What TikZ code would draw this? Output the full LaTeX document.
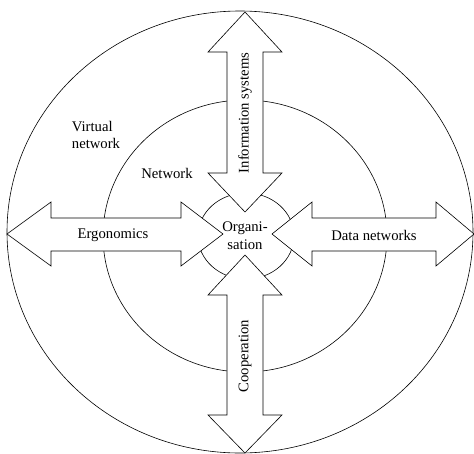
\documentclass[tikz,border=0pt]{standalone}
\usepackage{fontspec}
\setmainfont{Liberation Serif}
\begin{document}
\begin{tikzpicture}[x=1pt,y=-1pt,line width=0.6pt,
  lbl/.style={font=\fontsize{14.7}{17.6}\selectfont,inner sep=0pt},
  arr/.style={draw,fill=white,line join=miter}]
\useasboundingbox (0,0) rectangle (474,453);
% rings
\draw (240,232) ellipse [x radius=233,y radius=221];
\draw (245,236) ellipse [x radius=142,y radius=136];
\draw (246,236) ellipse [x radius=48,y radius=43];
% vertical double arrows: top
\draw[arr] (245,12) -- (282,52) -- (263,52) -- (263,173) -- (282,173) -- (245,212)
  -- (208,173) -- (227,173) -- (227,52) -- (208,52) -- cycle;
% bottom
\draw[arr] (245,255) -- (282,295) -- (263,295) -- (263,415) -- (282,415) -- (245,453)
  -- (208,415) -- (227,415) -- (227,295) -- (208,295) -- cycle;
% left
\draw[arr] (7,234) -- (51,202) -- (51,218) -- (181,218) -- (181,202) -- (223,234)
  -- (181,266) -- (181,251) -- (51,251) -- (51,266) -- cycle;
% right
\draw[arr] (272,234) -- (312,202) -- (312,218) -- (436,218) -- (436,202) -- (474,234)
  -- (436,266) -- (436,251) -- (312,251) -- (312,266) -- cycle;
% labels
\node[lbl,align=left] (vnet) at (96,135) {Virtual\\network};
\node[lbl] (net) at (167,173) {Network};
\node[lbl] (ergo) at (113,235) {Ergonomics};
\node[lbl] (data) at (374,235) {Data networks};
\node[lbl,align=center] (org) at (245,236) {Organi-\\sation};
\node[lbl,rotate=90] (info) at (245,113) {Information systems};
\node[lbl,rotate=90] (coop) at (245,356) {Cooperation};
\end{tikzpicture}
\end{document}
